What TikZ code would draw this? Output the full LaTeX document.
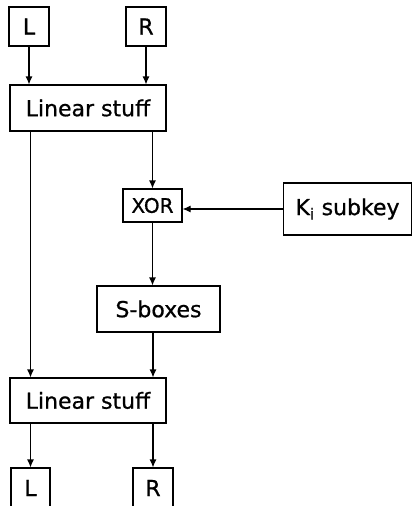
\documentclass[tikz,border=0pt]{standalone}
\usepackage{fontspec}
\setmainfont{DejaVu Sans}[FakeBold=0.8]
\usetikzlibrary{arrows.meta}

\begin{document}
\begin{tikzpicture}[x=1pt, y=-1pt, line width=1.1pt,
    font=\fontsize{22}{24}\selectfont,
    box/.style={draw, inner sep=0pt, minimum width=#1},
    arr/.style={-{Latex[length=8pt,width=7pt]}}]
    \clip (0,0) rectangle (412,506);
    \node[box=40, minimum height=39] (inL) at (29,26.5) {L};
    \node[box=40, minimum height=39] (inR) at (146,26.5) {R};
    \node[box=156, minimum height=46] (lin1) at (88,108) {Linear stuff};
    \node[box=59, minimum height=33, font=\fontsize{20}{22}\selectfont] (xor) at (152.5,205.5) {XOR};
    \node[box=128, minimum height=52] (key) at (347.5,209) {K\textsubscript{i} subkey};
    \node[box=123, minimum height=46] (sbox) at (158.5,309) {S-boxes};
    \node[box=156, minimum height=45] (lin2) at (88,400.5) {Linear stuff};
    \node[box=39, minimum height=40] (outL) at (30.5,488) {L};
    \node[box=40, minimum height=40] (outR) at (153,488) {R};
    \draw[arr] (inL.south) -- (inL.south |- lin1.north);
    \draw[arr] (inR.south) -- (inR.south |- lin1.north);
    \draw[arr] (outL |- lin1.south) -- (outL |- lin2.north);
    \draw[arr] (xor.north |- lin1.south) -- (xor.north);
    \draw[arr] (key.west) -- (xor.east |- key.west);
    \draw[arr] (xor.south) -- (xor.south |- sbox.north);
    \draw[arr] (outR |- sbox.south) -- (outR |- lin2.north);
    \draw[arr] (outL |- lin2.south) -- (outL.north);
    \draw[arr] (outR |- lin2.south) -- (outR.north);
\end{tikzpicture}
\end{document}
